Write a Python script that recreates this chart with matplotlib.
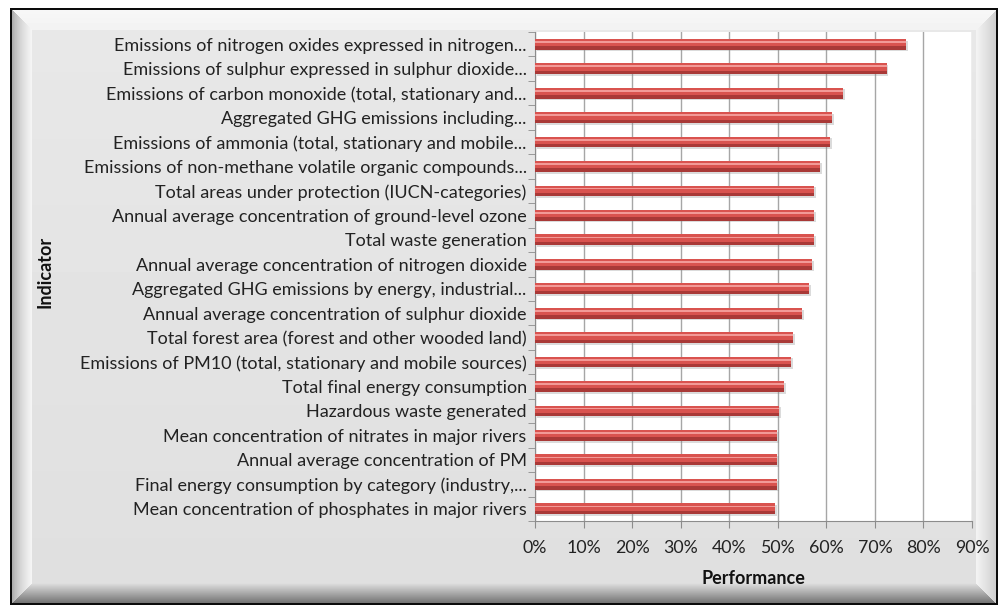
import numpy as np
import matplotlib.pyplot as plt
from matplotlib.ticker import PercentFormatter

plt.rcParams['font.family'] = ['Lato', 'DejaVu Sans']

# Indicators, top to bottom as shown
indicators = [
    "Emissions of nitrogen oxides expressed in nitrogen...",
    "Emissions of sulphur expressed in sulphur dioxide...",
    "Emissions of carbon monoxide (total, stationary and...",
    "Aggregated GHG emissions including...",
    "Emissions of ammonia (total, stationary and mobile...",
    "Emissions of non-methane volatile organic compounds...",
    "Total areas under protection (IUCN-categories)",
    "Annual average concentration of ground-level ozone",
    "Total waste generation",
    "Annual average concentration of nitrogen dioxide",
    "Aggregated GHG emissions by energy, industrial...",
    "Annual average concentration of sulphur dioxide",
    "Total forest area (forest and other wooded land)",
    "Emissions of PM10 (total, stationary and mobile sources)",
    "Total final energy consumption",
    "Hazardous waste generated",
    "Mean concentration of nitrates in major rivers",
    "Annual average concentration of PM",
    "Final energy consumption by category (industry,...",
    "Mean concentration of phosphates in major rivers",
]
performance = [0.765, 0.724, 0.635, 0.612, 0.608, 0.587, 0.575, 0.575, 0.575, 0.571,
               0.564, 0.550, 0.531, 0.527, 0.512, 0.502, 0.498, 0.498, 0.498, 0.494]

W, H = 1001, 610
fig = plt.figure(figsize=(W / 100, H / 100), dpi=100)
fig.patch.set_facecolor('white')

# bevelled chart frame drawn as a background image
bg = fig.add_axes([0, 0, 1, 1])
bg.set_axis_off()
x0, x1, y0, y1 = 10, 997, 8, 604
bw = 22
yy, xx = np.mgrid[0:H, 0:W].astype(float)
img = np.ones((H, W))
inside = (xx >= x0) & (xx <= x1) & (yy >= y0) & (yy <= y1)
base = 0.91 - 0.035 * (yy - y0) / (y1 - y0)
img[inside] = base[inside]
dl, dr, dt, db = xx - x0, x1 - xx, yy - y0, y1 - yy
dmin = np.minimum(np.minimum(dl, dr), np.minimum(dt, db))
bev = inside & (dmin < bw)
t = np.clip(dmin / bw, 0, 1)
left = bev & (dl == dmin)
top = bev & (dt == dmin) & ~left
right = bev & (dr == dmin) & ~left & ~top
bottom = bev & ~left & ~top & ~right
img[left] = (0.55 + 0.42 * np.sqrt(t))[left]
img[top] = (0.97 - 0.02 * t)[top]
img[right] = (0.80 + 0.16 * t)[right]
img[bottom] = (0.42 + 0.47 * t)[bottom]
edge = inside & (dmin < 1.5)
img[edge] = 0.05
bg.imshow(img, cmap='gray', vmin=0, vmax=1, extent=(0, W, H, 0), aspect='auto',
          interpolation='bilinear')
bg.set_xlim(0, W)
bg.set_ylim(H, 0)

# plot area: x 535..972 px, y 32..521 px
ax = fig.add_axes([535 / W, 1 - 521 / H, (972 - 535) / W, (521 - 32) / H])
ax.set_facecolor('white')

n = len(indicators)
ypos = np.arange(n)[::-1]
h = 0.44
# drop shadow
ax.barh(ypos - 0.07, performance, left=0.004, height=h, color='#8a8a8a', alpha=0.3,
        zorder=2, linewidth=0)
# main bar body
ax.barh(ypos, performance, height=h, color='#d9534f', zorder=3, linewidth=0)
# darker lower part
ax.barh(ypos - h * 0.34, performance, height=h * 0.32, color='#a93937', zorder=3.1,
        linewidth=0)
# highlight near top
ax.barh(ypos + h * 0.22, performance, height=h * 0.16, color='#f29a97', zorder=3.2,
        linewidth=0)

ax.set_xlim(0, 0.9)
ax.set_ylim(-0.5, n - 0.5)
ax.set_xticks(np.arange(0, 0.91, 0.1))
ax.xaxis.set_major_formatter(PercentFormatter(1.0, decimals=0))
ax.set_yticks(ypos)
ax.set_yticklabels(indicators)
ax.set_yticks(np.arange(-0.5, n, 1), minor=True)
ax.tick_params(axis='y', which='major', length=0, pad=6, labelsize=13, labelcolor='#222222')
ax.tick_params(axis='y', which='minor', length=5, color='#8c8c8c', direction='out')
ax.tick_params(axis='x', length=5, color='#8c8c8c', direction='out', pad=9,
               labelsize=12.8, labelcolor='#222222')
ax.grid(axis='x', color='#a6a6a6', linewidth=1.0, zorder=0)
ax.set_axisbelow(True)
for s in ['top', 'right']:
    ax.spines[s].set_visible(False)
ax.spines['left'].set_color('#8c8c8c')
ax.spines['bottom'].set_color('#8c8c8c')

fig.text(753 / W, 1 - 578 / H, 'Performance', ha='center', va='center',
         fontsize=13, fontweight='bold', color='#111111')
fig.text(45 / W, 1 - 272 / H, 'Indicator', ha='center', va='center', rotation=90,
         fontsize=13, fontweight='bold', color='#111111')

fig.savefig('out.png', dpi=100, facecolor=fig.get_facecolor())
